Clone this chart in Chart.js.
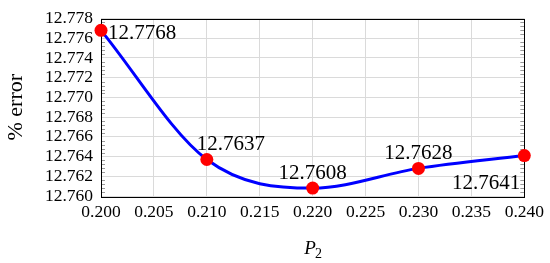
<!DOCTYPE html>
<html>
<head>
<meta charset="utf-8">
<script src="https://cdn.jsdelivr.net/npm/chart.js@4/dist/chart.umd.min.js"></script>
<style>
  html, body { margin: 0; padding: 0; background: #fff; }
  #wrap { width: 550px; height: 263px; }
</style>
</head>
<body>
<div id="wrap"><canvas id="c" width="550" height="263"></canvas></div>
<script>
// ---- data ----
const p2Values = [0.200, 0.210, 0.220, 0.230, 0.240];
const errorValues = [12.7768, 12.7637, 12.7608, 12.7628, 12.7641];
const pointLabels = ['12.7768', '12.7637', '12.7608', '12.7628', '12.7641'];
const xTickLabels = ['0.200', '0.205', '0.210', '0.215', '0.220', '0.225', '0.230', '0.235', '0.240'];
const yTickLabels = ['12.760', '12.762', '12.764', '12.766', '12.768', '12.770', '12.772', '12.774', '12.776', '12.778'];
const xTitleMain = 'P';
const xTitleSub = '2';
const yTitle = '% error';

// ---- styles ----
const labelStyle = [
  { dx: 7, dy: 3, align: 'left' },
  { dx: -10, dy: -15, align: 'left' },
  { dx: 0, dy: -15, align: 'center' },
  { dx: 0, dy: -15, align: 'center' },
  { dx: -4, dy: 28, align: 'right' }
];
const FONT = "'Liberation Serif', 'DejaVu Serif', serif";

const frameAndMinorTicks = {
  id: 'frameAndMinorTicks',
  beforeDatasetsDraw(chart) {
    const { ctx, chartArea: a, scales: { y } } = chart;
    ctx.save();
    ctx.strokeStyle = '#9a9a9a';
    ctx.lineWidth = 1;
    const lo = y.min, hi = y.max, step = 0.0004;
    const n = Math.round((hi - lo) / step);
    for (let i = 1; i < n; i++) {
      if (i % 5 === 0) continue;
      const v = lo + i * step;
      const py = Math.round(y.getPixelForValue(v)) + 0.5;
      ctx.beginPath();
      ctx.moveTo(a.left, py); ctx.lineTo(a.left + 4, py);
      ctx.moveTo(a.right, py); ctx.lineTo(a.right - 4, py);
      ctx.stroke();
    }
    ctx.strokeStyle = '#000';
    ctx.lineWidth = 1;
    ctx.strokeRect(Math.round(a.left) + 0.5, Math.round(a.top) + 0.5,
      Math.round(a.right - a.left), Math.round(a.bottom - a.top));
    ctx.restore();
  }
};

const textPlugin = {
  id: 'textPlugin',
  afterDatasetsDraw(chart) {
    const { ctx, chartArea: a } = chart;
    const meta = chart.getDatasetMeta(0);
    ctx.save();
    ctx.fillStyle = '#000';
    ctx.font = "21px " + FONT;
    ctx.textBaseline = 'middle';
    meta.data.forEach((pt, i) => {
      const s = labelStyle[i];
      ctx.textAlign = s.align;
      ctx.fillText(pointLabels[i], pt.x + s.dx, pt.y + s.dy);
    });
    // x axis title with subscript
    const cx = (a.left + a.right) / 2;
    ctx.textBaseline = 'alphabetic';
    ctx.textAlign = 'left';
    ctx.font = "italic 19px " + FONT;
    const wP = ctx.measureText(xTitleMain).width;
    ctx.font = "14px " + FONT;
    const w2 = ctx.measureText(xTitleSub).width;
    const x0 = cx - (wP + w2) / 2 + 1;
    ctx.font = "italic 19px " + FONT;
    ctx.fillText(xTitleMain, x0, 254);
    ctx.font = "14px " + FONT;
    ctx.fillText(xTitleSub, x0 + wP - 1, 258);
    // y axis title
    ctx.translate(16, (a.top + a.bottom) / 2);
    ctx.rotate(-Math.PI / 2);
    ctx.textAlign = 'center';
    ctx.textBaseline = 'middle';
    ctx.font = "22px " + FONT;
    ctx.fillText(yTitle, 0, 0);
    ctx.restore();
  }
};

new Chart(document.getElementById('c'), {
  type: 'line',
  data: {
    datasets: [{
      data: p2Values.map((x, i) => ({ x, y: errorValues[i] })),
      borderColor: '#0000ff',
      borderWidth: 3,
      cubicInterpolationMode: 'monotone',
      pointRadius: 6.5,
      pointBackgroundColor: '#ff0000',
      pointBorderColor: '#ff0000',
      pointBorderWidth: 0,
      fill: false,
      clip: false
    }]
  },
  options: {
    responsive: false,
    animation: false,
    devicePixelRatio: 1,
    layout: { padding: { top: 13, right: 23, left: 0, bottom: 0 } },
    plugins: { legend: { display: false }, tooltip: { enabled: false } },
    scales: {
      x: {
        type: 'linear',
        min: 0.2, max: 0.24,
        afterFit(s) { s.height = 67; },
        afterBuildTicks(s) { s.ticks = xTickLabels.map(t => ({ value: parseFloat(t) })); },
        ticks: {
          callback: (v, i) => xTickLabels[i],
          color: '#000', font: { family: FONT, size: 17.5 }, padding: 6, maxRotation: 0, autoSkip: false
        },
        grid: { color: '#dadada', drawTicks: false },
        border: { display: false }
      },
      y: {
        min: 12.76, max: 12.778,
        afterFit(s) { s.width = 101; },
        afterBuildTicks(s) { s.ticks = yTickLabels.map(t => ({ value: parseFloat(t) })); },
        ticks: {
          callback: (v, i) => yTickLabels[i],
          color: '#000', font: { family: FONT, size: 17.5 }, padding: 8, autoSkip: false
        },
        grid: { color: '#dadada', drawTicks: false },
        border: { display: false }
      }
    }
  },
  plugins: [frameAndMinorTicks, textPlugin]
});
</script>
</body>
</html>
